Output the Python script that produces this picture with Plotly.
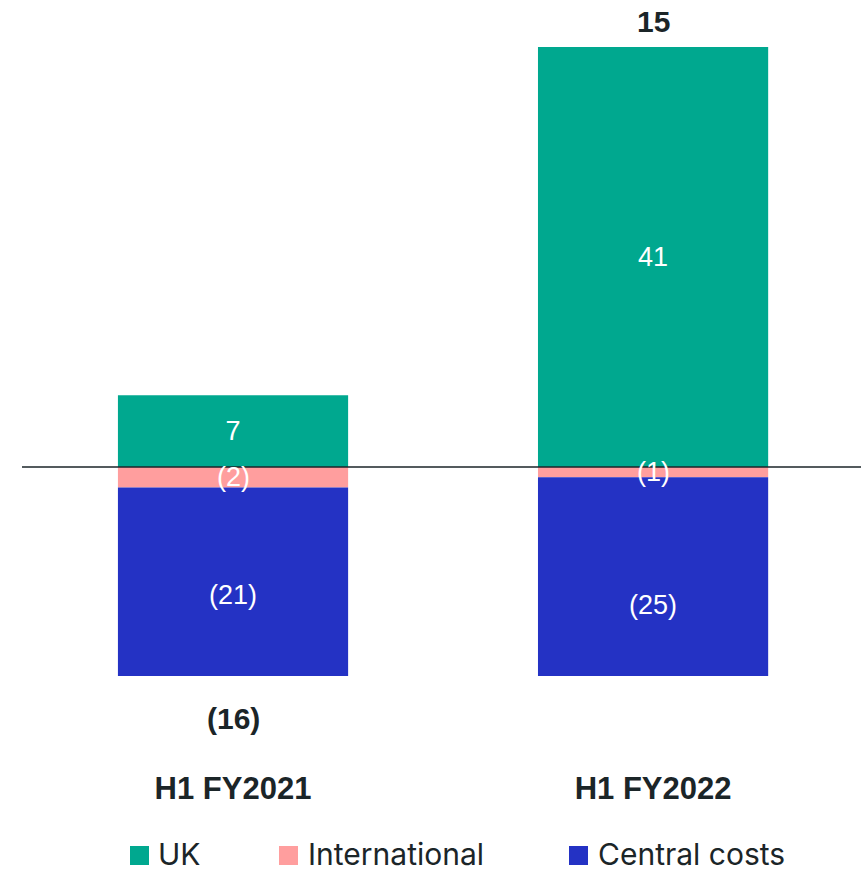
import plotly.graph_objects as go

# Operating result by segment, £m
categories = ["H1 FY2021", "H1 FY2022"]
series_names = ["UK", "International", "Central costs"]
uk = [7, 41]
international = [-2, -1]
central_costs = [-21, -25]
totals = [-16, 15]

colors = ["#00A88F", "#FF9E9E", "#2432C4"]
ink = "#1B2528"
label_font = "Liberation Sans, Arial, sans-serif"

W, H = 861, 873
M_L, M_R, M_T, M_B = 23, 0, 0, 197
PLOT_W = W - M_L - M_R
PLOT_H = H - M_T - M_B
Y_RANGE = [-20.40, 45.59]
X_RANGE = [-0.5, 1.495]


def fmt(v):
    return f"({abs(v)})" if v < 0 else f"{v}"


def y_to_paper(v):
    return (v - Y_RANGE[0]) / (Y_RANGE[1] - Y_RANGE[0])


def x_to_paper(v):
    return (v - X_RANGE[0]) / (X_RANGE[1] - X_RANGE[0])


def px_to_paper_x(px):
    return (px - M_L) / PLOT_W


def px_to_paper_y(py):
    return (M_T + PLOT_H - py) / PLOT_H


all_series = [uk, international, central_costs]
# thin segments get their labels as annotations so they sit above neighbouring bars
overlay_label = [False, True, False]

fig = go.Figure()
for name, vals, col, overlay in zip(series_names, all_series, colors, overlay_label):
    fig.add_trace(go.Bar(
        x=categories, y=vals, name=name,
        marker=dict(color=col, line=dict(width=0)),
        width=0.548,
        text=None if overlay else [fmt(v) for v in vals],
        textposition="inside", insidetextanchor="middle",
        constraintext="none",
        textfont=dict(family=label_font, size=27, color="white"),
        showlegend=False,
        hoverinfo="skip",
    ))

annotations = []

# segment centres under relative stacking
for i, cat in enumerate(categories):
    pos_base, neg_base = 0, 0
    for vals, overlay in zip(all_series, overlay_label):
        v = vals[i]
        if v >= 0:
            centre = pos_base + v / 2
            pos_base += v
        else:
            centre = neg_base + v / 2
            neg_base += v
        if overlay:
            annotations.append(dict(
                x=cat, xref="x", y=centre, yref="y",
                text=fmt(v), showarrow=False,
                xanchor="center", yanchor="middle",
                font=dict(family=label_font, size=27, color="white"),
            ))

# net total above the positive stack or below the negative stack
for i, (cat, tot) in enumerate(zip(categories, totals)):
    pos = sum(s[i] for s in all_series if s[i] > 0)
    neg = sum(s[i] for s in all_series if s[i] < 0)
    if tot >= 0:
        y, anchor, shift = pos, "bottom", 7
    else:
        y, anchor, shift = neg, "top", 3
    annotations.append(dict(
        x=x_to_paper(i), xref="paper", y=y_to_paper(y), yref="paper",
        text=f"<b>{fmt(tot)}</b>", showarrow=False,
        xanchor="center", yanchor=anchor, yshift=shift,
        font=dict(family=label_font, size=30, color=ink),
    ))

shapes = [dict(
    type="line", xref="paper", yref="y",
    x0=-1 / PLOT_W, x1=1, y0=0, y1=0,
    line=dict(color=ink, width=1.5),
)]

# legend row
legend_marker_px = [130, 279, 569]
legend_text_px = [156, 306, 596]
legend_y = 854
for name, col, mx, tx in zip(series_names, colors, legend_marker_px, legend_text_px):
    shapes.append(dict(
        type="rect", xref="paper", yref="paper",
        x0=px_to_paper_x(mx), x1=px_to_paper_x(mx + 19),
        y0=px_to_paper_y(legend_y + 11), y1=px_to_paper_y(legend_y - 8),
        fillcolor=col, line=dict(width=0),
    ))
    annotations.append(dict(
        x=px_to_paper_x(tx), xref="paper", y=px_to_paper_y(legend_y), yref="paper",
        text=name, showarrow=False, xanchor="left", yanchor="middle",
        font=dict(family="Inter, sans-serif", size=30, color=ink),
    ))

fig.update_layout(
    width=W, height=H,
    margin=dict(l=M_L, r=M_R, t=M_T, b=M_B, pad=0),
    barmode="relative",
    plot_bgcolor="white", paper_bgcolor="white",
    xaxis=dict(
        range=X_RANGE, showgrid=False, zeroline=False, showline=False,
        ticks="", ticklabelstandoff=91,
        tickfont=dict(family=label_font, size=31, color=ink),
        tickprefix="<b>", ticksuffix="</b>",
    ),
    yaxis=dict(range=Y_RANGE, visible=False, showgrid=False, zeroline=False),
    shapes=shapes,
    annotations=annotations,
    showlegend=False,
)

fig.write_html("out.html")
